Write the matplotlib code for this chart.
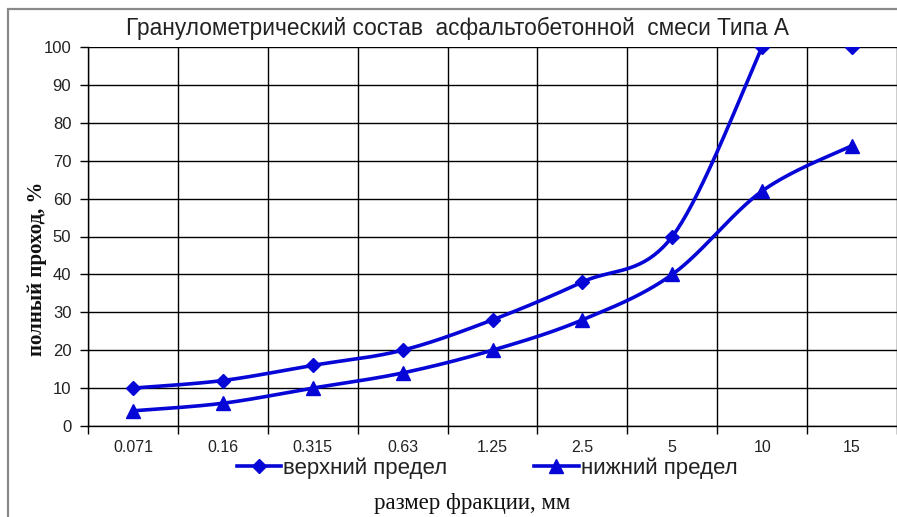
import numpy as np
import matplotlib
matplotlib.use("Agg")
import matplotlib.pyplot as plt
from matplotlib.lines import Line2D
from matplotlib.patches import Rectangle

# Sieve sizes and grading limits
sizes = ["0.071", "0.16", "0.315", "0.63", "1.25", "2.5", "5", "10", "15"]
upper = [10, 12, 16, 20, 28, 38, 50, 100, 100]
lower = [4, 6, 10, 14, 20, 28, 40, 62, 74]
y_ticks = [0, 10, 20, 30, 40, 50, 60, 70, 80, 90, 100]

title = "Гранулометрический состав  асфальтобетонной  смеси Типа А"
x_label = "размер фракции, мм"
y_label = "полный проход, %"
upper_name = "верхний предел"
lower_name = "нижний предел"

BLUE = "#0606D6"


def smooth(xs, ys, n=40):
    """Piecewise cubic Bezier through the points (Catmull-Rom style controls)."""
    pts = np.column_stack([xs, ys]).astype(float)
    out = []
    for i in range(len(pts) - 1):
        p0 = pts[i - 1] if i > 0 else pts[i]
        p1 = pts[i]
        p2 = pts[i + 1]
        p3 = pts[i + 2] if i + 2 < len(pts) else pts[i + 1]
        c1 = p1 + (p2 - p0) / 6.0
        c2 = p2 - (p3 - p1) / 6.0
        t = np.linspace(0, 1, n)[:, None]
        seg = ((1 - t) ** 3) * p1 + 3 * ((1 - t) ** 2) * t * c1 + 3 * (1 - t) * t ** 2 * c2 + t ** 3 * p2
        out.append(seg if i == 0 else seg[1:])
    s = np.vstack(out)
    return s[:, 0], s[:, 1]


fig = plt.figure(figsize=(8.97, 5.17), dpi=100)
ax = fig.add_axes([88 / 897, 1 - 426 / 517, 809 / 897, 379 / 517])

x = np.arange(len(sizes))

# upper limit: curve up to 10 mm, single marker at 15 mm
ux, uy = smooth(x[:8], upper[:8])
ax.plot(ux, uy, color=BLUE, lw=2.6, solid_capstyle="round", zorder=3)
ax.plot(x, upper, ls="none", marker="D", ms=7.5, color=BLUE, zorder=4)

lx, ly = smooth(x, lower)
ax.plot(lx, ly, color=BLUE, lw=2.6, solid_capstyle="round", zorder=3)
ax.plot(x, lower, ls="none", marker="^", ms=10, color=BLUE, zorder=4)

ax.set_xlim(-0.5, len(sizes) - 0.5)
ax.set_ylim(0, 100)

# category boundaries carry the grid and tick marks, labels sit at centres
ax.set_xticks(np.arange(len(sizes) + 1) - 0.5)
ax.set_xticklabels([])
ax.set_xticks(x, minor=True)
ax.set_xticklabels(sizes, minor=True, fontsize=11.5, family="Liberation Sans", color="#222222")
ax.tick_params(axis="x", which="minor", length=0, pad=10)
ax.tick_params(axis="x", which="major", length=6, width=1, direction="out", color="black")

ax.set_yticks(y_ticks)
ax.set_yticklabels([str(v) for v in y_ticks], fontsize=12, family="Liberation Sans", color="#222222")
ax.tick_params(axis="y", length=6, width=1, direction="out", pad=6)

ax.grid(True, which="major", color="black", lw=1.0)
ax.set_axisbelow(True)
for side in ["top", "right"]:
    ax.spines[side].set_visible(False)
for side in ["left", "bottom"]:
    ax.spines[side].set_linewidth(1.0)

fig.text(457 / 897, 1 - 28 / 517, title, ha="center", va="center",
         fontsize=16.3, family="Liberation Sans", color="#222222")
fig.text(37 / 897, 1 - 269 / 517, y_label, ha="center", va="center", rotation=90,
         fontsize=15, family="Liberation Serif", fontweight="bold", color="#111111")
fig.text(472 / 897, 1 - 503 / 517, x_label, ha="center", va="center",
         fontsize=16.5, family="Liberation Serif", color="#111111")

handles = [
    Line2D([], [], color=BLUE, lw=2.6, marker="D", ms=7.5),
    Line2D([], [], color=BLUE, lw=2.6, marker="^", ms=10),
]
fig.legend(handles, [upper_name, lower_name], loc="center",
           bbox_to_anchor=(487 / 897, 1 - 468 / 517), ncol=2, frameon=False,
           prop={"family": "Liberation Sans", "size": 16}, handlelength=2.0,
           handletextpad=0.1, columnspacing=3.9, labelcolor="#222222")

# outer chart frame
fig.patches.append(Rectangle((8 / 897, -0.05), 1.0, 1 - 9 / 517 + 0.05,
                             transform=fig.transFigure, fill=False,
                             edgecolor="#8a8a8a", lw=1.6))

fig.savefig("out.png", dpi=100)
